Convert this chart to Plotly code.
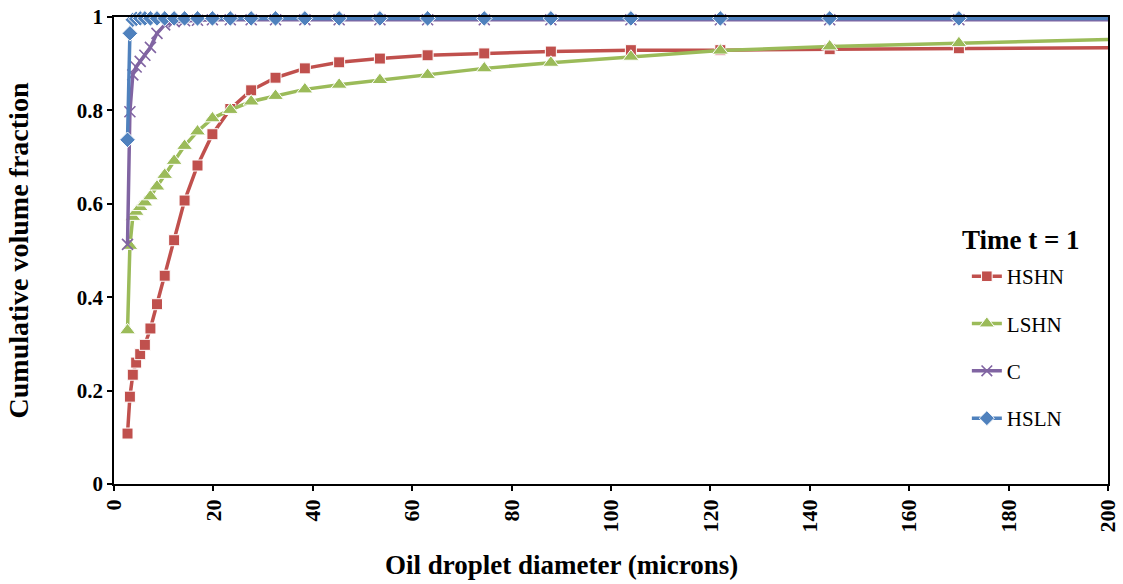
import plotly.graph_objects as go

# Droplet size bin mid-points (microns)
diameter = [2.72, 3.20, 3.78, 4.46, 5.27, 6.21, 7.33, 8.65, 10.2, 12.1, 14.2,
            16.8, 19.8, 23.4, 27.6, 32.5, 38.4, 45.3, 53.5, 63.1, 74.5, 87.9,
            104, 122, 144, 170, 201]

# Cumulative volume fraction per treatment at time t = 1
hshn = [0.108, 0.187, 0.234, 0.260, 0.278, 0.298, 0.333, 0.385, 0.446, 0.522,
        0.607, 0.682, 0.749, 0.803, 0.843, 0.870, 0.890, 0.903, 0.911, 0.918,
        0.922, 0.926, 0.929, 0.929, 0.931, 0.933, 0.934]
lshn = [0.329, 0.510, 0.572, 0.583, 0.593, 0.603, 0.616, 0.637, 0.662, 0.692,
        0.724, 0.755, 0.783, 0.801, 0.819, 0.831, 0.845, 0.855, 0.865, 0.876,
        0.890, 0.902, 0.915, 0.928, 0.937, 0.944, 0.952]
c = [0.513, 0.797, 0.876, 0.893, 0.905, 0.918, 0.935, 0.965, 0.983, 0.990,
     0.992, 0.993, 0.994, 0.994, 0.994, 0.994, 0.994, 0.994, 0.994, 0.994,
     0.994, 0.994, 0.994, 0.994, 0.994, 0.994, 0.994]
hsln = [0.737, 0.965, 0.994, 0.996, 0.997, 0.997, 0.997, 0.997, 0.997, 0.997,
        0.997, 0.997, 0.997, 0.997, 0.997, 0.997, 0.997, 0.997, 0.997, 0.997,
        0.997, 0.997, 0.997, 0.997, 0.997, 0.997, 0.997]

x_ticks = [0, 20, 40, 60, 80, 100, 120, 140, 160, 180, 200]
y_ticks = [0, 0.2, 0.4, 0.6, 0.8, 1]
y_ticktext = ["0", "0.2", "0.4", "0.6", "0.8", "1"]

SERIF = "Liberation Serif, Times New Roman, serif"

series = [
    ("HSHN", hshn, "#C0504D", dict(symbol="square", size=11)),
    ("LSHN", lshn, "#9BBB59", dict(symbol="triangle-up", size=14)),
    ("C", c, "#8064A2", dict(symbol="x-thin", size=11,
                             line=dict(width=1.6, color="#8064A2"))),
    ("HSLN", hsln, "#4F81BD", dict(symbol="diamond", size=12)),
]

fig = go.Figure()
n = len(diameter)
for name, vals, color, mk in series:
    # the last bin lies past the axis end: keep its line segment, hide its marker
    base = mk["size"]
    marker = dict(mk, color=color, opacity=1, size=[base] * (n - 1) + [0])
    fig.add_trace(go.Scatter(
        x=diameter, y=vals, name=name, mode="lines+markers",
        line=dict(color=color, width=3.5),
        marker=marker, cliponaxis=False, legendgroup=name,
    ))

fig.update_layout(
    width=1123, height=584,
    margin=dict(l=114, r=15, t=17, b=100),
    paper_bgcolor="white", plot_bgcolor="white",
    font=dict(family=SERIF, color="black"),
    showlegend=True,
    legend=dict(
        x=0.858, y=0.488, xanchor="left", yanchor="top",
        font=dict(size=21), tracegroupgap=17,
        bgcolor="rgba(0,0,0,0)",
    ),
    annotations=[
        dict(text="<b>Time t = 1</b>", xref="paper", yref="paper",
             x=0.851, y=0.5225, xanchor="left", yanchor="middle",
             showarrow=False, font=dict(size=27)),
        # x-axis title, centred on the whole figure width
        dict(text="<b>Oil droplet diameter (microns)</b>",
             xref="paper", yref="paper", x=0.450, y=-0.1734,
             xanchor="center", yanchor="middle",
             showarrow=False, font=dict(size=27)),
    ],
)

fig.update_xaxes(
    range=[0, 200], tickvals=x_ticks, ticktext=[str(v) for v in x_ticks],
    tickangle=-90, tickfont=dict(size=22, weight="bold"),
    ticks="outside", ticklen=5, tickcolor="black", tickwidth=1.5,
    showline=True, linecolor="black", linewidth=1.5, mirror=True,
    showgrid=False, zeroline=False, automargin=False,
)
fig.update_yaxes(
    range=[0, 1], tickvals=y_ticks, ticktext=y_ticktext,
    tickfont=dict(size=21, weight="bold"),
    ticks="outside", ticklen=5, tickcolor="black", tickwidth=1.5,
    showline=True, linecolor="black", linewidth=1.5, mirror=True,
    showgrid=False, zeroline=False, automargin=False,
    title=dict(text="Cumulative volume fraction",
               font=dict(size=28, weight="bold"), standoff=40),
)

fig.write_html("out.html")
